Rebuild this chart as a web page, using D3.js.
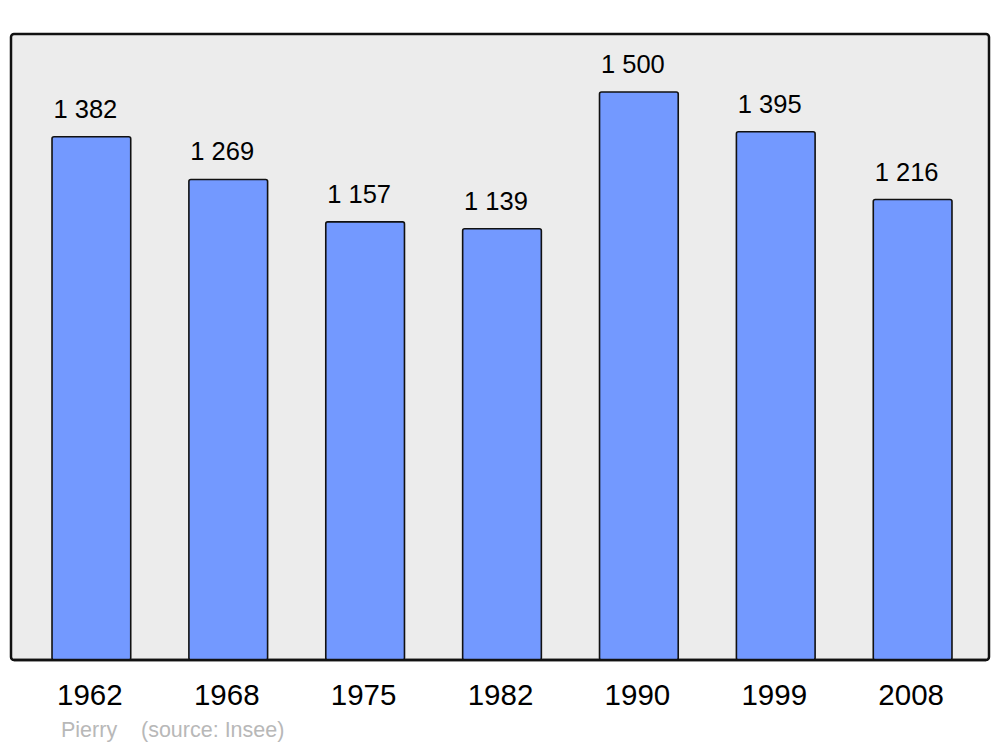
<!DOCTYPE html>
<html><head><meta charset="utf-8">
<script src="https://cdn.jsdelivr.net/npm/d3@7"></script>
<style>html,body{margin:0;padding:0;background:#fff;}svg{display:block;}</style>
</head><body>
<script>
const years = ["1962","1968","1975","1982","1990","1999","2008"];
const population = [1382,1269,1157,1139,1500,1395,1216];
const valueLabels = ["1 382","1 269","1 157","1 139","1 500","1 395","1 216"];
const footerAuthor = "Pierry";
const footerSource = "(source: Insee)";

const W = 1000, H = 747;
const svg = d3.select("body").append("svg").attr("width", W).attr("height", H);
const panel = {x0: 11, x1: 989, y0: 34, y1: 660};

svg.append("rect").attr("x", panel.x0).attr("y", panel.y0)
  .attr("width", panel.x1 - panel.x0).attr("height", panel.y1 - panel.y0)
  .attr("rx", 3).attr("fill", "#ececec").attr("stroke", "#111").attr("stroke-width", 2.5);

const x = d3.scaleBand().domain(years).range([23, 981]).paddingInner(0.425).paddingOuter(0.212);
const y = d3.scaleLinear().domain([0, 1500]).range([panel.y1, 92]);

svg.selectAll("rect.bar").data(population).join("rect").attr("class", "bar")
  .attr("x", (d, i) => x(years[i]))
  .attr("y", d => y(d))
  .attr("width", x.bandwidth())
  .attr("height", d => panel.y1 - y(d))
  .attr("rx", 2)
  .attr("fill", "#7399ff").attr("stroke", "#111").attr("stroke-width", 1.6);

// redraw bottom border over bars
svg.append("line").attr("x1", panel.x0 + 3).attr("x2", panel.x1 - 3).attr("y1", panel.y1).attr("y2", panel.y1)
  .attr("stroke", "#111").attr("stroke-width", 2.5);

svg.selectAll("text.val").data(population).join("text").attr("class", "val")
  .attr("x", (d, i) => x(years[i]) + x.bandwidth() / 2 - 6)
  .attr("y", d => y(d) - 19)
  .attr("text-anchor", "middle")
  .attr("font-family", "Liberation Sans, Arial, sans-serif")
  .attr("font-size", 25.5).attr("fill", "#000")
  .text((d, i) => valueLabels[i]);

const xAxis = d3.axisBottom(x).tickSize(0).tickPadding(0);
const gx = svg.append("g").attr("transform", `translate(-1.5, ${panel.y1})`).call(xAxis);
gx.select(".domain").remove();
gx.selectAll("text").attr("font-family", "Liberation Sans, Arial, sans-serif")
  .attr("font-size", 29.5).attr("fill", "#000").attr("dy", null).attr("y", 45);

svg.append("text").attr("x", 61).attr("y", 737)
  .attr("font-family", "Liberation Sans, Arial, sans-serif").attr("font-size", 21.5)
  .attr("fill", "#b8b8b8").text(footerAuthor);
svg.append("text").attr("x", 141).attr("y", 737)
  .attr("font-family", "Liberation Sans, Arial, sans-serif").attr("font-size", 21.5)
  .attr("fill", "#b8b8b8").text(footerSource);
</script>
</body></html>
